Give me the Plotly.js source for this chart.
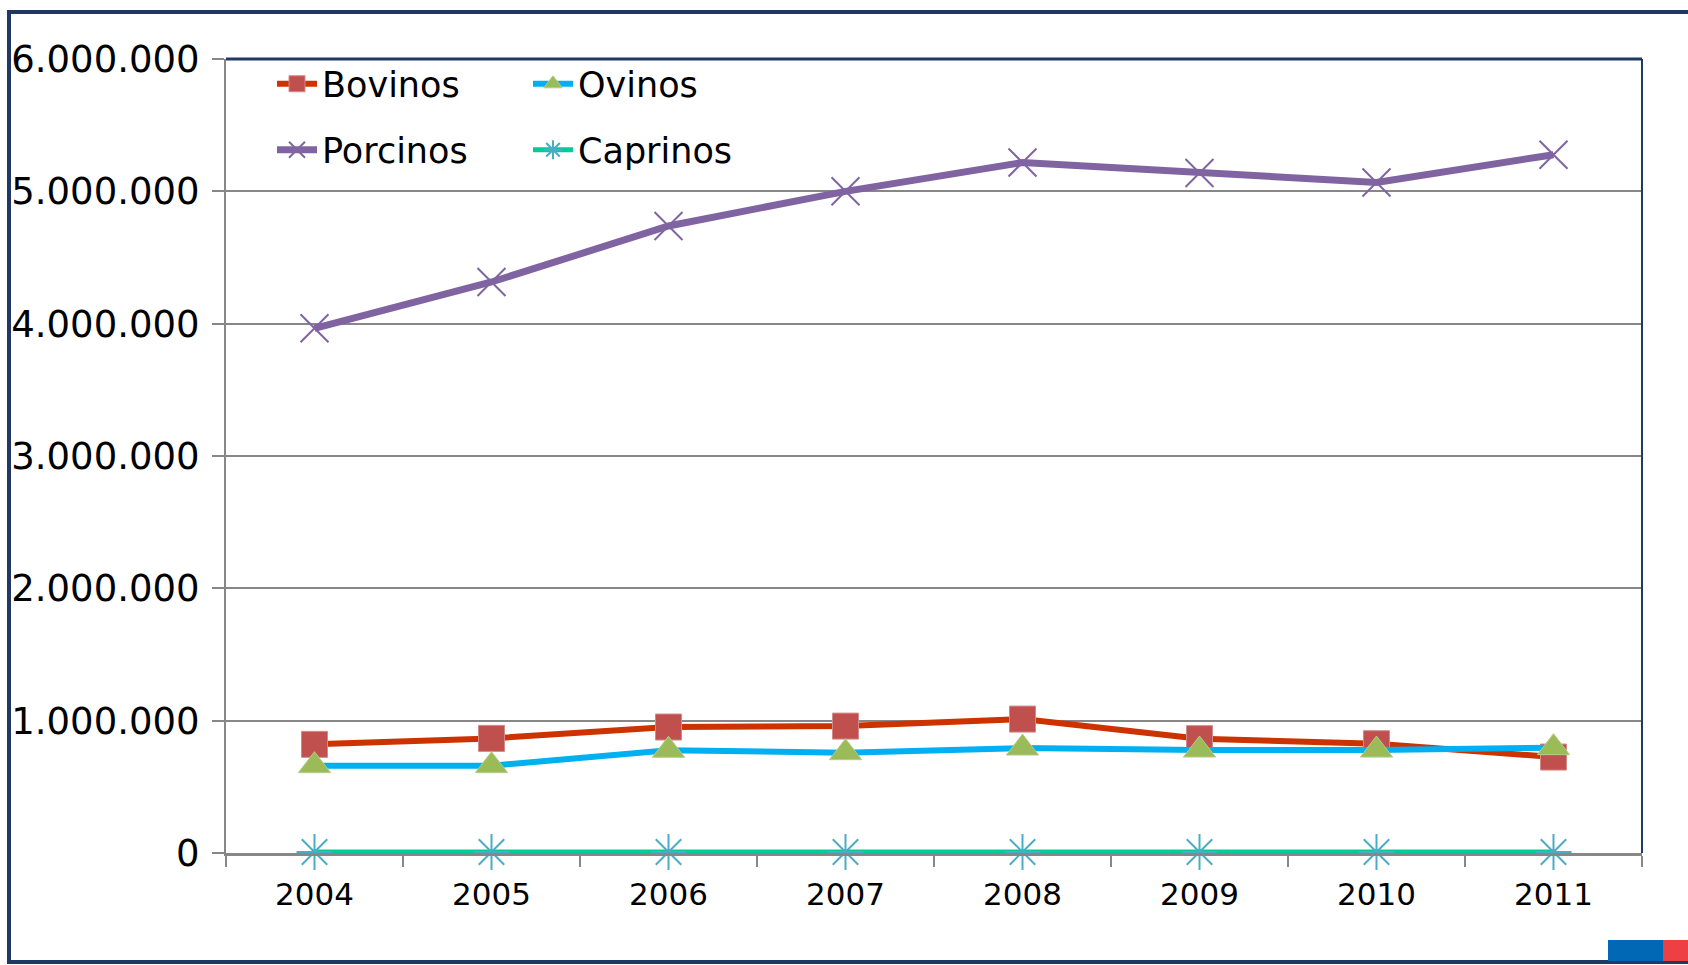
<!DOCTYPE html>
<html>
<head>
<meta charset="utf-8">
<script src="https://cdn.plot.ly/plotly-3.0.1.min.js"></script>
<style>
html,body{margin:0;padding:0;background:#fff;}
#chart{width:1688px;height:965px;}
</style>
</head>
<body>
<div id="chart"></div>
<script>
const years = ['2004','2005','2006','2007','2008','2009','2010','2011'];
const bovinos = [821000, 866000, 952000, 959000, 1012000, 864000, 826000, 725000];
const ovinos = [660000, 660000, 776000, 758000, 793000, 778000, 778000, 796000];
const porcinos = [3965000, 4315000, 4738000, 5000000, 5218000, 5138000, 5067000, 5277000];
const caprinos = [8000, 8000, 8000, 8000, 8000, 8000, 8000, 8000];
const yTicks = [0, 1000000, 2000000, 3000000, 4000000, 5000000, 6000000];

const legFont = {family: 'DejaVu Sans, Verdana, sans-serif', size: 35, color: '#000'};
function leg(x, y) {
  return {x: x, y: y, xanchor: 'left', yanchor: 'middle', bgcolor: 'rgba(0,0,0,0)',
          borderwidth: 0, font: legFont, itemwidth: 40};
}

const traces = [
  {x: years, y: bovinos, name: 'Bovinos', type: 'scatter', mode: 'lines+markers',
   line: {color: '#CC3300', width: 6},
   marker: {symbol: 'square', size: 26, color: '#C0504D', line: {color: '#D28A88', width: 1}},
   legend: 'legend'},
  {x: years, y: ovinos, name: 'Ovinos', type: 'scatter', mode: 'lines+markers',
   line: {color: '#00B0F0', width: 6},
   marker: {symbol: 'triangle-up', size: 28, color: '#9BBB59', line: {color: '#B5CC8A', width: 1}},
   legend: 'legend2'},
  {x: years, y: porcinos, name: 'Porcinos', type: 'scatter', mode: 'lines+markers',
   line: {color: '#8064A2', width: 7},
   marker: {symbol: 'x-thin-open', size: 28, color: '#8064A2', line: {color: '#8064A2', width: 2}},
   legend: 'legend3'},
  {x: years, y: caprinos, name: 'Caprinos', type: 'scatter', mode: 'lines+markers',
   cliponaxis: false,
   line: {color: '#00CC99', width: 5},
   marker: {symbol: 'asterisk-open', size: 30, color: '#4BACC6', line: {color: '#4BACC6', width: 2}},
   legend: 'legend4'}
];

const L = 226, R = 46, T = 59, B = 112, W = 1688 - L - R, H = 965 - T - B;
const px = v => (v - L) / W;
const py = v => 1 - (v - T) / H;

const layout = {
  width: 1688, height: 965,
  margin: {l: L, r: R, t: T, b: B, pad: 0},
  paper_bgcolor: '#fff', plot_bgcolor: '#fff',
  separators: ',.',
  showlegend: true,
  legend: leg(px(272), py(84)),
  legend2: leg(px(528), py(84)),
  legend3: leg(px(272), py(150)),
  legend4: leg(px(528), py(150)),
  xaxis: {
    type: 'category', range: [-0.5, 7.5], tickson: 'boundaries',
    ticks: 'outside', ticklen: 11, tickwidth: 2, tickcolor: '#878787',
    showline: true, linecolor: '#878787', linewidth: 3,
    showgrid: false, zeroline: false,
    tickfont: {family: 'DejaVu Sans, Verdana, sans-serif', size: 31, color: '#000'},
    ticklabelstandoff: 12
  },
  yaxis: {
    range: [0, 6000000], tickvals: yTicks, tickformat: ',d',
    ticks: 'outside', ticklen: 12, tickwidth: 2, tickcolor: '#878787',
    showline: true, linecolor: '#878787', linewidth: 2,
    showgrid: true, gridcolor: '#878787', gridwidth: 2, zeroline: false,
    tickfont: {family: 'DejaVu Sans, Verdana, sans-serif', size: 37, color: '#000'},
    ticklabelstandoff: 5
  },
  shapes: [
    {type: 'line', xref: 'paper', yref: 'paper', x0: 0, x1: 1, y0: 1, y1: 1,
     line: {color: '#1F3864', width: 3}},
    {type: 'line', xref: 'paper', yref: 'paper', x0: 1, x1: 1, y0: 1, y1: 0,
     line: {color: '#1F3864', width: 2}},
    {type: 'rect', xref: 'paper', yref: 'paper', x0: px(9), x1: px(1700), y0: py(12), y1: py(962),
     line: {color: '#1F3864', width: 4}, fillcolor: 'rgba(0,0,0,0)', layer: 'below'},
    {type: 'rect', xref: 'paper', yref: 'paper', x0: px(1608), x1: px(1663), y0: py(940), y1: py(961),
     line: {width: 0}, fillcolor: '#0068B5'},
    {type: 'rect', xref: 'paper', yref: 'paper', x0: px(1663), x1: px(1690), y0: py(940), y1: py(961),
     line: {width: 0}, fillcolor: '#EE3F45'}
  ]
};

Plotly.newPlot('chart', traces, layout, {displayModeBar: false, staticPlot: true});
</script>
</body>
</html>
